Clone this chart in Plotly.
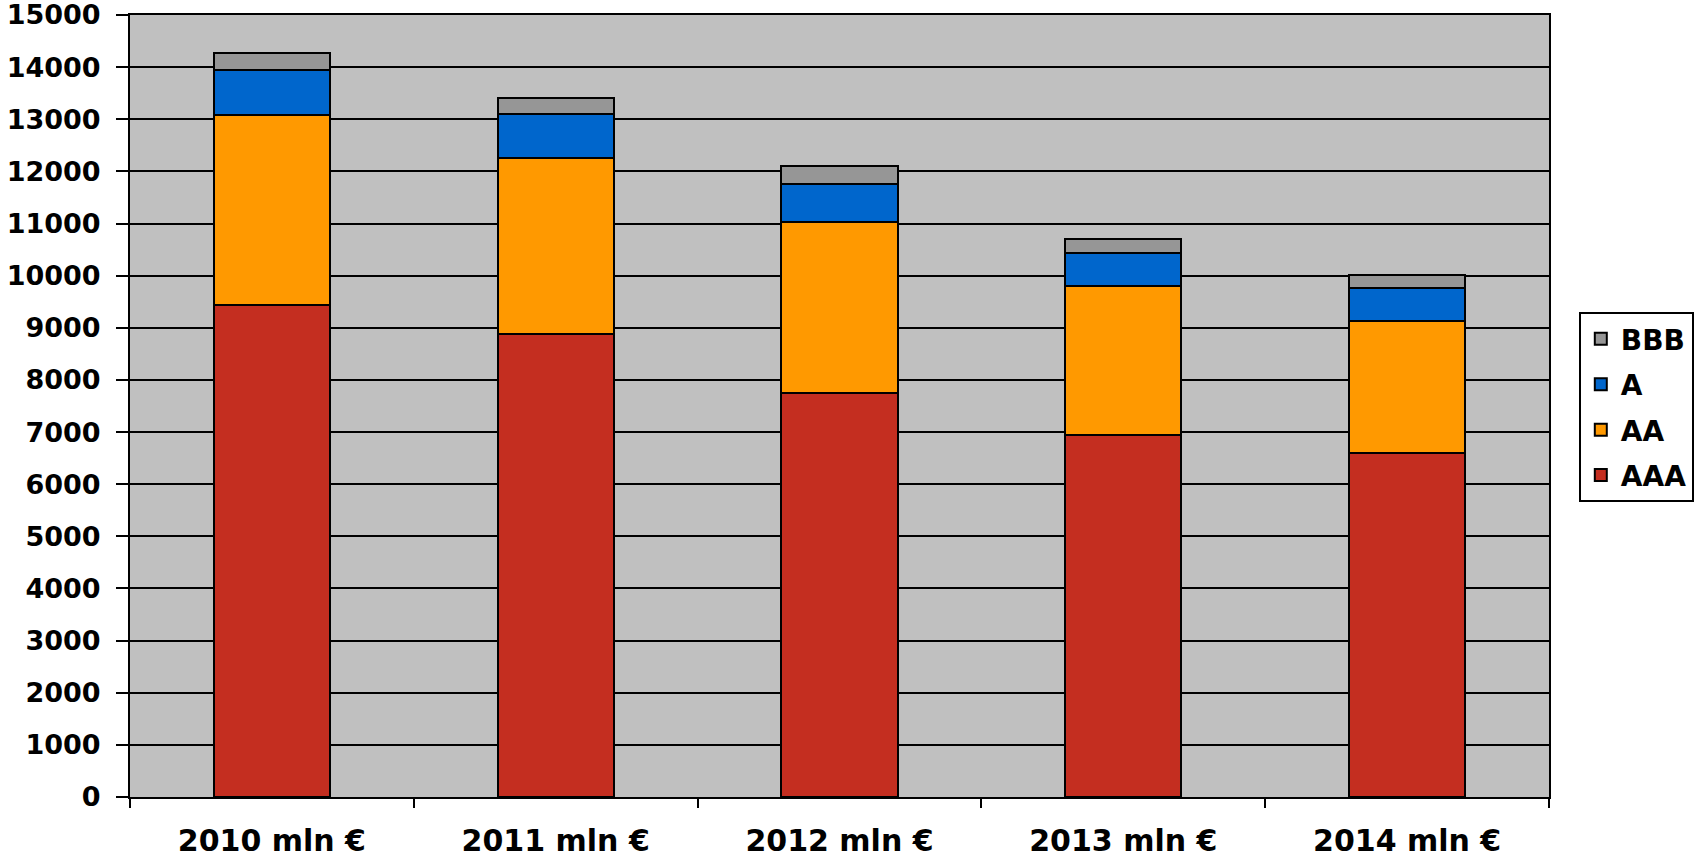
import plotly.graph_objects as go

# Portfolio by rating class, million euro, stacked per year
categories = ["2010 mln €", "2011 mln €", "2012 mln €", "2013 mln €", "2014 mln €"]
aaa = [9430, 8880, 7740, 6940, 6590]
aa = [3660, 3370, 3290, 2860, 2540]
a = [850, 850, 720, 640, 640]
bbb = [340, 300, 350, 260, 250]

series = [
    ("AAA", aaa, "#C42E20"),
    ("AA", aa, "#FF9900"),
    ("A", a, "#0066CC"),
    ("BBB", bbb, "#969696"),
]

FONT = "DejaVu Sans"

fig = go.Figure()
for i, (name, vals, color) in enumerate(series):
    fig.add_trace(go.Bar(
        x=categories, y=vals, name=name, legendgroup=name,
        legendrank=len(series) - i,  # top of the stack listed first
        marker=dict(color=color, line=dict(color="#000000", width=2)),
    ))

fig.update_layout(
    barmode="stack",
    bargap=0.59,
    width=1708, height=859,
    margin=dict(l=130, r=159, t=15, b=62),
    paper_bgcolor="#FFFFFF",
    plot_bgcolor="#C0C0C0",
    font=dict(family=FONT, size=26, color="#000000"),
    showlegend=True,
    legend=dict(
        x=1.021, xanchor="left", y=0.62, yanchor="top",
        traceorder="grouped", tracegroupgap=6,
        bgcolor="#FFFFFF", bordercolor="#000000", borderwidth=2,
        font=dict(family=FONT, size=28, color="#000000", weight="bold"),
    ),
    xaxis=dict(
        showline=True, linecolor="#000000", linewidth=2, mirror=True,
        ticks="outside", ticklen=9, tickwidth=2, tickcolor="#000000",
        tickson="boundaries", showgrid=False, automargin=False,
        ticklabelstandoff=16,
        tickfont=dict(family=FONT, size=30, color="#000000", weight="bold"),
    ),
    yaxis=dict(
        range=[0, 15000], dtick=1000, tickformat="d",
        showline=True, linecolor="#000000", linewidth=2, mirror=True,
        ticks="outside", ticklen=12, tickwidth=2, tickcolor="#000000",
        showgrid=True, gridcolor="#000000", gridwidth=2,
        zeroline=False, automargin=False, ticklabeloverflow="allow",
        ticklabelstandoff=10,
        tickfont=dict(family=FONT, size=27, color="#000000", weight="bold"),
    ),
)

fig.write_html("out.html")
